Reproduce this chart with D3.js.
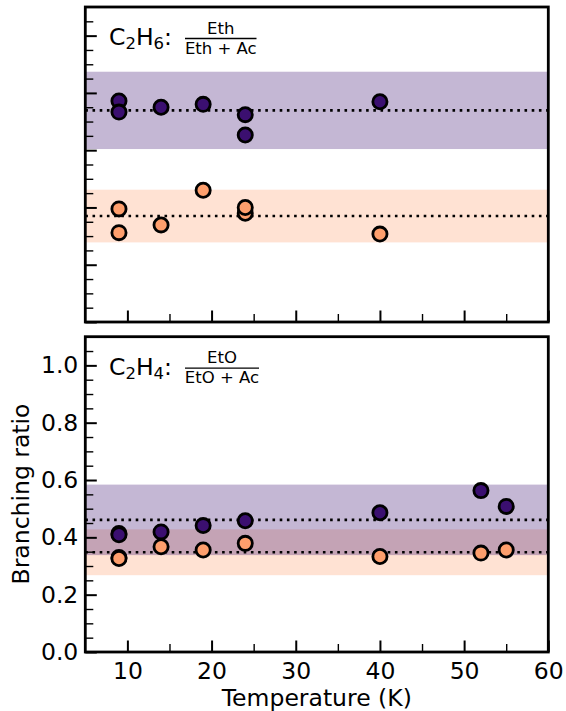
<!DOCTYPE html>
<html>
<head>
<meta charset="utf-8">
<script src="https://cdn.jsdelivr.net/npm/d3@7"></script>
<style>
  body { margin: 0; background: #fff; }
  text { font-family: "DejaVu Sans", sans-serif; fill: #000; }
</style>
</head>
<body>
<svg id="chart" width="566" height="711"></svg>
<script>
// ---------- data ----------
const xTicks = [10, 20, 30, 40, 50, 60];
const yTickLabels = ["0.0", "0.2", "0.4", "0.6", "0.8", "1.0"];

// Top panel: C2H6
const c2h6PurpleT = [9, 9, 14, 19, 24, 24, 40];
const c2h6PurpleV = [0.772, 0.733, 0.750, 0.760, 0.724, 0.653, 0.769];
const c2h6OrangeT = [9, 9, 14, 19, 24, 24, 40];
const c2h6OrangeV = [0.395, 0.312, 0.339, 0.460, 0.380, 0.400, 0.307];
const c2h6PurpleMean = 0.739, c2h6PurpleErr = 0.135;
const c2h6OrangeMean = 0.370, c2h6OrangeErr = 0.092;

// Bottom panel: C2H4
const c2h4PurpleT = [9, 9, 14, 19, 24, 40, 52, 55];
const c2h4PurpleV = [0.413, 0.409, 0.419, 0.441, 0.458, 0.486, 0.563, 0.508];
const c2h4OrangeT = [9, 9, 14, 19, 24, 40, 52, 55];
const c2h4OrangeV = [0.330, 0.326, 0.367, 0.356, 0.379, 0.333, 0.345, 0.356];
const c2h4PurpleMean = 0.461, c2h4PurpleErr = 0.123;
const c2h4OrangeMean = 0.348, c2h4OrangeErr = 0.080;

const purple = "#3b0f70", orange = "#fe9f6d";

// ---------- layout ----------
const svg = d3.select("#chart");
const L = 85.3, R = 548.3;
const x = d3.scaleLinear().domain([5, 60]).range([L, R]);
const FS = "23.5px";

function panel(top, bottom, showLabels, cfg) {
  const y = d3.scaleLinear().domain([0, 1.1]).range([bottom, top]);
  const g = svg.append("g");

  // bands
  [[cfg.oMean, cfg.oErr, orange], [cfg.pMean, cfg.pErr, purple]].forEach(([m, e, c]) => {
    g.append("rect")
      .attr("x", x(5)).attr("width", x(60) - x(5))
      .attr("y", y(m + e)).attr("height", y(m - e) - y(m + e))
      .attr("fill", c).attr("fill-opacity", 0.3);
  });
  // dotted mean lines
  [cfg.pMean, cfg.oMean].forEach(m => {
    g.append("line")
      .attr("x1", x(5)).attr("x2", x(60))
      .attr("y1", y(m)).attr("y2", y(m))
      .attr("stroke", "#000").attr("stroke-width", 2.6)
      .attr("stroke-dasharray", "2.6,4.6");
  });
  // points: orange then purple
  [[cfg.oT, cfg.oV, orange], [cfg.pT, cfg.pV, purple]].forEach(([ts, vs, c]) => {
    g.selectAll(null).data(ts.map((t, i) => [t, vs[i]])).enter()
      .append("circle")
      .attr("cx", d => x(d[0])).attr("cy", d => y(d[1]))
      .attr("r", 7.1)
      .attr("fill", c).attr("stroke", "#000").attr("stroke-width", 2.8);
  });

  // y ticks (inward)
  const minorY = d3.range(0, 22).map(i => i * 0.05).filter(v => Math.abs(v * 5 - Math.round(v * 5)) > 1e-6);
  const majorY = d3.range(0, 6).map(i => i * 0.2);
  const yAxis = d3.axisLeft(y).tickValues(majorY).tickSizeInner(-11.5).tickSizeOuter(0)
    .tickPadding(7).tickFormat((d, i) => showLabels ? yTickLabels[i] : "");
  const ya = g.append("g").attr("transform", `translate(${L},0)`).call(yAxis);
  ya.select(".domain").remove();
  ya.selectAll("line").attr("stroke-width", 2);
  ya.selectAll("text").style("font-size", FS).attr("font-family", "DejaVu Sans");
  const yMinor = d3.axisLeft(y).tickValues(minorY).tickSizeInner(-8).tickSizeOuter(0).tickFormat("");
  const ym = g.append("g").attr("transform", `translate(${L},0)`).call(yMinor);
  ym.select(".domain").remove();
  ym.selectAll("line").attr("stroke-width", 1.4);

  // x ticks (inward)
  const xAxis = d3.axisBottom(x).tickValues(xTicks).tickSizeInner(-11.5).tickSizeOuter(0)
    .tickPadding(10).tickFormat(d => showLabels ? d : "");
  const xa = g.append("g").attr("transform", `translate(0,${bottom})`).call(xAxis);
  xa.select(".domain").remove();
  xa.selectAll("line").attr("stroke-width", 2);
  xa.selectAll("text").style("font-size", FS).attr("font-family", "DejaVu Sans");
  const xMinor = d3.axisBottom(x).tickValues([15, 25, 35, 45, 55]).tickSizeInner(-8).tickSizeOuter(0).tickFormat("");
  const xm = g.append("g").attr("transform", `translate(0,${bottom})`).call(xMinor);
  xm.select(".domain").remove();
  xm.selectAll("line").attr("stroke-width", 1.4);

  // frame
  g.append("rect").attr("x", L).attr("y", top).attr("width", R - L).attr("height", bottom - top)
    .attr("fill", "none").attr("stroke", "#000").attr("stroke-width", 2.8);

  // title annotation
  const tx = 109, tb = top + 38;
  const t = g.append("text").attr("x", tx).attr("y", tb).style("font-size", "23.5px");
  t.append("tspan").text("C");
  t.append("tspan").attr("dy", 4).style("font-size", "16.5px").text("2");
  t.append("tspan").attr("dy", -4).text("H");
  t.append("tspan").attr("dy", 4).style("font-size", "16.5px").text(cfg.sub);
  t.append("tspan").attr("dy", -4).text(":");
  const fx1 = 185, fx2 = cfg.fracEnd, fc = (fx1 + fx2) / 2;
  g.append("line").attr("x1", fx1).attr("x2", fx2).attr("y1", top + 31.5).attr("y2", top + 31.5)
    .attr("stroke", "#000").attr("stroke-width", 1.3);
  g.append("text").attr("x", fc).attr("y", top + 26.5).attr("text-anchor", "middle")
    .style("font-size", "16.5px").text(cfg.num);
  g.append("text").attr("x", fc).attr("y", top + 46.5).attr("text-anchor", "middle")
    .style("font-size", "16.5px").text(cfg.den);
  return y;
}

panel(7, 322, false, {
  pT: c2h6PurpleT, pV: c2h6PurpleV, oT: c2h6OrangeT, oV: c2h6OrangeV,
  pMean: c2h6PurpleMean, pErr: c2h6PurpleErr, oMean: c2h6OrangeMean, oErr: c2h6OrangeErr,
  sub: "6", num: "Eth", den: "Eth + Ac", fracEnd: 256.5
});
panel(336.7, 652, true, {
  pT: c2h4PurpleT, pV: c2h4PurpleV, oT: c2h4OrangeT, oV: c2h4OrangeV,
  pMean: c2h4PurpleMean, pErr: c2h4PurpleErr, oMean: c2h4OrangeMean, oErr: c2h4OrangeErr,
  sub: "4", num: "EtO", den: "EtO + Ac", fracEnd: 259
});

// axis labels
svg.append("text").attr("x", (L + R) / 2).attr("y", 706).attr("text-anchor", "middle")
  .style("font-size", FS).text("Temperature (K)");
svg.append("text").attr("transform", `translate(29,494) rotate(-90)`).attr("text-anchor", "middle")
  .style("font-size", FS).text("Branching ratio");
</script>
</body>
</html>
